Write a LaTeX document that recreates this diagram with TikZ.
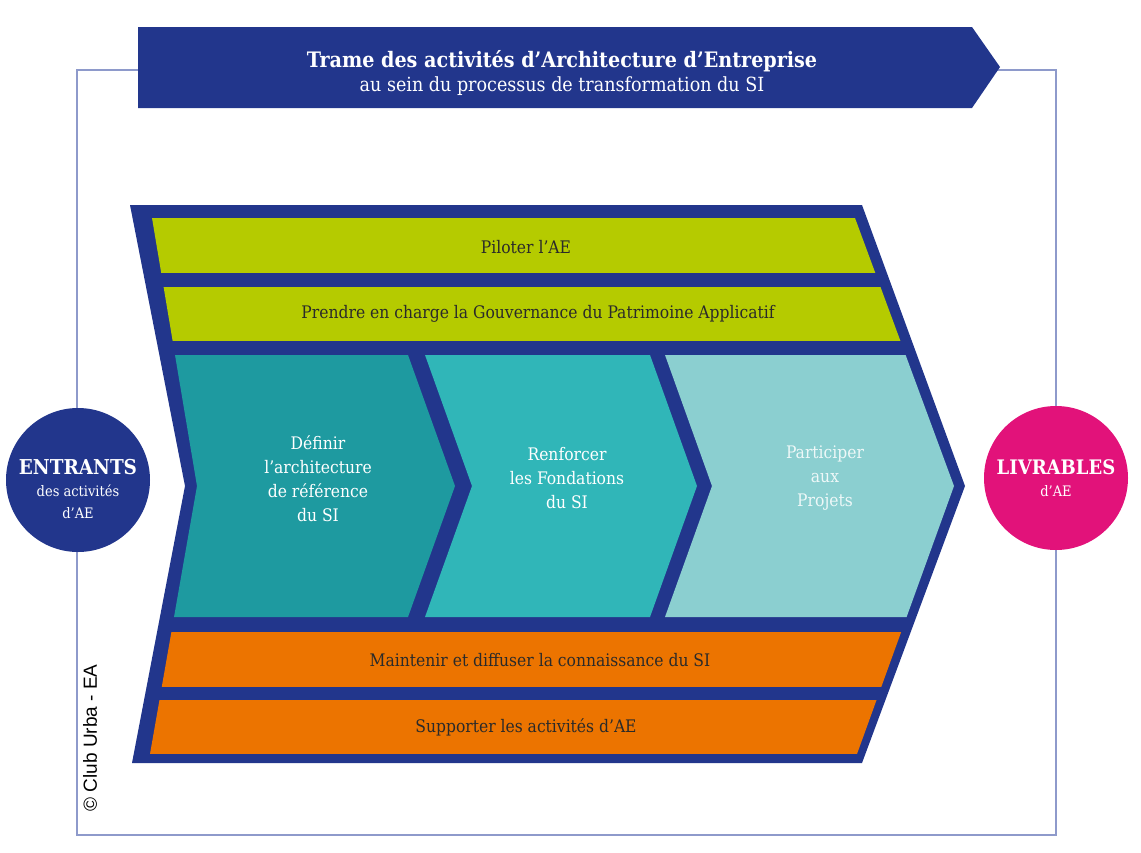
\documentclass[tikz,border=0pt]{standalone}
\usepackage{fontspec}
\setmainfont{DejaVu Serif Condensed}
\setsansfont{Liberation Sans}
\usetikzlibrary{positioning}
\definecolor{navy}{HTML}{22368C}
\definecolor{frameline}{HTML}{8E9ACB}
\definecolor{lime}{HTML}{B5CB00}
\definecolor{orange}{HTML}{EC7400}
\definecolor{tealdark}{HTML}{1E9AA0}
\definecolor{tealmid}{HTML}{30B6B8}
\definecolor{teallight}{HTML}{8BCFD0}
\definecolor{magenta}{HTML}{E2127A}
\definecolor{ink}{HTML}{2A2A2A}
\tikzset{
  bandtext/.style={font=\fontsize{17.3}{20}\selectfont, text=ink, inner sep=0pt},
  steptext/.style={font=\fontsize{17.3}{24}\selectfont, text=white, align=center, inner sep=0pt},
  disc/.style={circle, fill=#1, minimum size=144pt, inner sep=0pt},
  disctext/.style={text=white, align=center, inner sep=0pt, font=\fontsize{14.5}{22}\selectfont},
  frame/.style={draw=frameline, line width=1.6pt}
}

\begin{document}
\begin{tikzpicture}[x=1pt,y=-1pt]
  \useasboundingbox (0,0) rectangle (1141,852);
  % thin frame behind banner and discs
  \draw[frame] (77,70) rectangle (1056,835);

  % title banner
  \fill[navy] (138,27) -- (972,27) -- (1000,67) -- (972,108) -- (138,108) -- cycle;
  \node[text=white, align=center, inner sep=0pt] (title) at (562,73)
    {{\bfseries\fontsize{21.3}{26}\selectfont Trame des activités d’Architecture d’Entreprise}\\[4pt]
     {\fontsize{19.5}{22}\selectfont au sein du processus de transformation du SI}};

  % outer chevron
  \fill[navy] (130,205) -- (862,205) -- (965,486) -- (862,763) -- (132,763) -- (185,486) -- cycle;
  \begin{scope}
    \clip (152,218) -- (855,218) -- (954,486) -- (857,754) -- (150,754) -- (197,486) -- cycle;
    \foreach \ytop/\ybot/\col in {218/273/lime, 287/341/lime, 632/687/orange, 700/754/orange}
      \fill[\col] (100,\ytop) rectangle (1000,\ybot);
    \fill[tealdark] (100,355) -- (408,355) -- (455,486) -- (408,617) -- (100,617) -- cycle;
    \fill[tealmid] (425,355) -- (650,355) -- (697,486) -- (650,617) -- (425,617) -- (472,486) -- cycle;
    \fill[teallight] (665,355) -- (1000,355) -- (1000,617) -- (665,617) -- (712,486) -- cycle;
  \end{scope}

  \node[bandtext] (piloter) at (526,247) {Piloter l’AE};
  \node[bandtext] (gouvernance) at (538,314) {Prendre en charge la Gouvernance du Patrimoine Applicatif};
  \node[bandtext] (maintenir) at (540,660) {Maintenir et diffuser la connaissance du SI};
  \node[bandtext] (supporter) at (526,727) {Supporter les activités d’AE};

  \node[steptext] (definir) at (318,479) {Définir\\l’architecture\\de référence\\du SI};
  \node[steptext] (renforcer) at (567,478) {Renforcer\\les Fondations\\du SI};
  \node[steptext, text=white!85!teallight] (participer) at (825,478) {Participer\\aux\\Projets};

  % input / output discs
  \node[disc=navy] (entrants) at (78,480) {};
  \node[disctext] (entrantstext) at (78,489)
    {{\bfseries\fontsize{20.5}{22}\selectfont ENTRANTS}\\des activités\\d’AE};
  \node[disc=magenta] (livrables) at (1056,478) {};
  \node[disctext] (livrablestext) at (1056,478)
    {{\bfseries\fontsize{20}{22}\selectfont LIVRABLES}\\d’AE};

  \node[rotate=90, font=\sffamily\fontsize{19}{22}\selectfont, inner sep=0pt] (credit) at (90,738) {© Club Urba - EA};
\end{tikzpicture}
\end{document}
